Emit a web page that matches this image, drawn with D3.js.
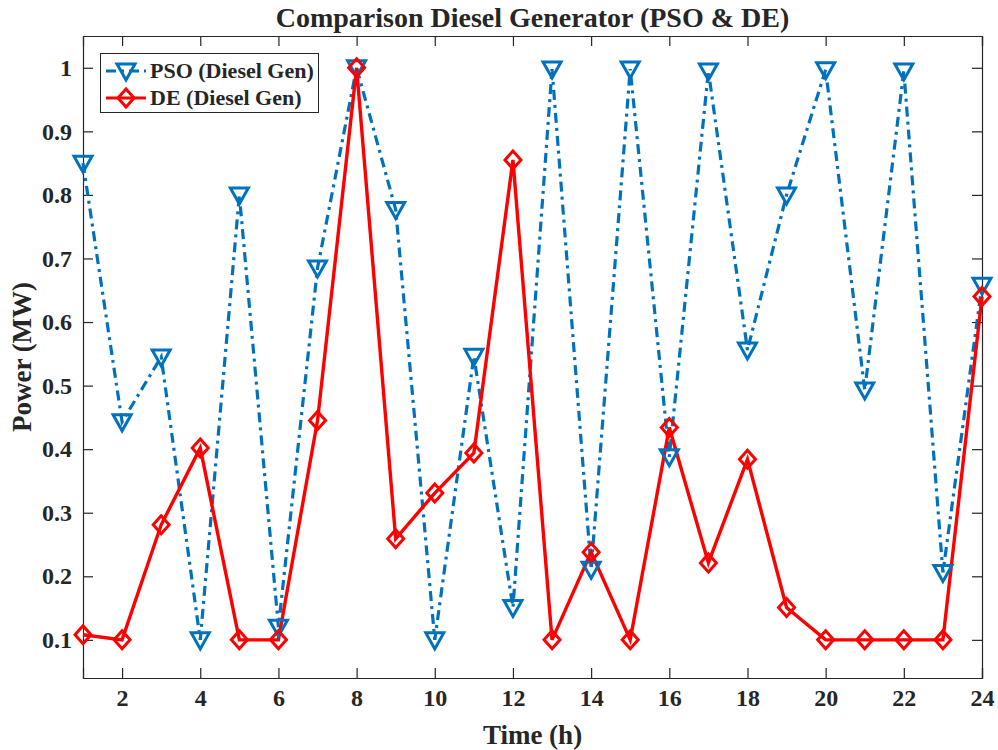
<!DOCTYPE html>
<html lang="en">
<head>
<meta charset="utf-8">
<title>Comparison Diesel Generator</title>
<script src="https://d3js.org/d3.v7.min.js"></script>
<style>
    body { margin: 0; background: #fff; }
    svg { display: block; }
    text { font-family: "Liberation Serif", "Times New Roman", serif; font-weight: bold; fill: #262626; }
</style>
</head>
<body>
<script>
    // hours 1..24
    var hours = d3.range(1, 25);
    var psoValues = [0.85, 0.443, 0.545, 0.1, 0.8, 0.12, 0.685, 1.0, 0.777, 0.1, 0.546, 0.151,
        0.998, 0.211, 0.998, 0.388, 0.995, 0.556, 0.8, 0.997, 0.493, 0.995, 0.206, 0.658];
    var deValues = [0.108, 0.1, 0.281, 0.402, 0.1, 0.1, 0.445, 1.0, 0.259, 0.331, 0.394, 0.855,
        0.1, 0.238, 0.1, 0.434, 0.221, 0.384, 0.151, 0.1, 0.1, 0.1, 0.1, 0.64];
    var xTicks = [2, 4, 6, 8, 10, 12, 14, 16, 18, 20, 22, 24];
    var yTicks = [0.1, 0.2, 0.3, 0.4, 0.5, 0.6, 0.7, 0.8, 0.9, 1];

    var width = 998, height = 750;
    var margin = {left: 83, right: 16, top: 36, bottom: 72};

    var svg = d3.select("body").append("svg")
        .attr("width", width)
        .attr("height", height);

    var x = d3.scaleLinear().domain([1, 24]).range([margin.left, width - margin.right]);
    var y = d3.scaleLinear().domain([0.04, 1.05]).range([height - margin.bottom, margin.top]);

    var axisColor = "#262626";

    // axes with inward ticks, plus mirrored box ticks
    var gx = svg.append("g")
        .attr("transform", "translate(0," + y.range()[0] + ")")
        .call(d3.axisBottom(x).tickValues(xTicks).tickSize(-10).tickPadding(11).tickFormat(d3.format("d")));
    var gxTop = svg.append("g")
        .attr("transform", "translate(0," + y.range()[1] + ")")
        .call(d3.axisTop(x).tickValues(xTicks).tickSize(-10).tickFormat(""));
    var gy = svg.append("g")
        .attr("transform", "translate(" + x.range()[0] + ",0)")
        .call(d3.axisLeft(y).tickValues(yTicks).tickSize(-10).tickPadding(11).tickFormat(function (d) { return d === 1 ? "1" : d3.format(".1f")(d); }));
    var gyRight = svg.append("g")
        .attr("transform", "translate(" + x.range()[1] + ",0)")
        .call(d3.axisRight(y).tickValues(yTicks).tickSize(-10).tickFormat(""));

    [gx, gxTop, gy, gyRight].forEach(function (g) {
        g.select(".domain").attr("stroke", axisColor).attr("stroke-width", 1.2);
        g.selectAll(".tick line").attr("stroke", axisColor).attr("stroke-width", 1.2);
        g.selectAll(".tick text")
            .attr("font-family", "Liberation Serif, serif")
            .attr("font-weight", "bold")
            .attr("font-size", 24)
            .attr("fill", axisColor);
    });

    // lines
    var line = function (vals) {
        return d3.line()
            .x(function (d, i) { return x(hours[i]); })
            .y(function (d) { return y(d); })(vals);
    };

    var blue = "#0072BD", red = "#FF0000";

    svg.append("path")
        .attr("d", line(psoValues))
        .attr("fill", "none")
        .attr("stroke", blue)
        .attr("stroke-width", 3.2)
        .attr("stroke-dasharray", "10,5,3,5");

    svg.append("path")
        .attr("d", line(deValues))
        .attr("fill", "none")
        .attr("stroke", red)
        .attr("stroke-width", 3.4);

    var tri = "M-9,-7 L9,-7 L0,9 Z";
    var dia = "M0,-9 L8,0 L0,9 L-8,0 Z";

    svg.selectAll(".pso-m")
        .data(psoValues)
        .enter().append("path")
        .attr("class", "pso-m")
        .attr("transform", function (d, i) { return "translate(" + x(hours[i]) + "," + y(d) + ")"; })
        .attr("d", tri)
        .attr("fill", "none")
        .attr("stroke", blue)
        .attr("stroke-width", 3);

    svg.selectAll(".de-m")
        .data(deValues)
        .enter().append("path")
        .attr("class", "de-m")
        .attr("transform", function (d, i) { return "translate(" + x(hours[i]) + "," + y(d) + ")"; })
        .attr("d", dia)
        .attr("fill", "none")
        .attr("stroke", red)
        .attr("stroke-width", 3);

    // title and labels
    svg.append("text")
        .attr("x", (x.range()[0] + x.range()[1]) / 2)
        .attr("y", 27)
        .attr("text-anchor", "middle")
        .attr("font-size", 28)
        .attr("fill", "#000")
        .text("Comparison Diesel Generator (PSO & DE)");

    svg.append("text")
        .attr("x", (x.range()[0] + x.range()[1]) / 2)
        .attr("y", 744)
        .attr("text-anchor", "middle")
        .attr("font-size", 27)
        .text("Time (h)");

    svg.append("text")
        .attr("transform", "translate(31," + (y.range()[0] + y.range()[1]) / 2 + ") rotate(-90)")
        .attr("text-anchor", "middle")
        .attr("font-size", 27)
        .text("Power (MW)");

    // legend
    var legend = svg.append("g");
    legend.append("rect")
        .attr("x", 100.5).attr("y", 53.5)
        .attr("width", 218).attr("height", 59)
        .attr("fill", "#fff")
        .attr("stroke", axisColor)
        .attr("stroke-width", 1);

    var entries = [
        {name: "PSO (Diesel Gen)", color: blue, dash: "10,5,3,5", marker: tri, y: 71},
        {name: "DE (Diesel Gen)", color: red, dash: null, marker: dia, y: 98}
    ];
    entries.forEach(function (e) {
        legend.append("line")
            .attr("x1", 106).attr("x2", 146)
            .attr("y1", e.y).attr("y2", e.y)
            .attr("stroke", e.color)
            .attr("stroke-width", 3.2)
            .attr("stroke-dasharray", e.dash);
        legend.append("path")
            .attr("transform", "translate(126," + e.y + ")")
            .attr("d", e.marker)
            .attr("fill", "none")
            .attr("stroke", e.color)
            .attr("stroke-width", 3);
        legend.append("text")
            .attr("x", 150)
            .attr("y", e.y + 7)
            .attr("font-size", 22)
            .attr("fill", "#000")
            .text(e.name);
    });
</script>
</body>
</html>
